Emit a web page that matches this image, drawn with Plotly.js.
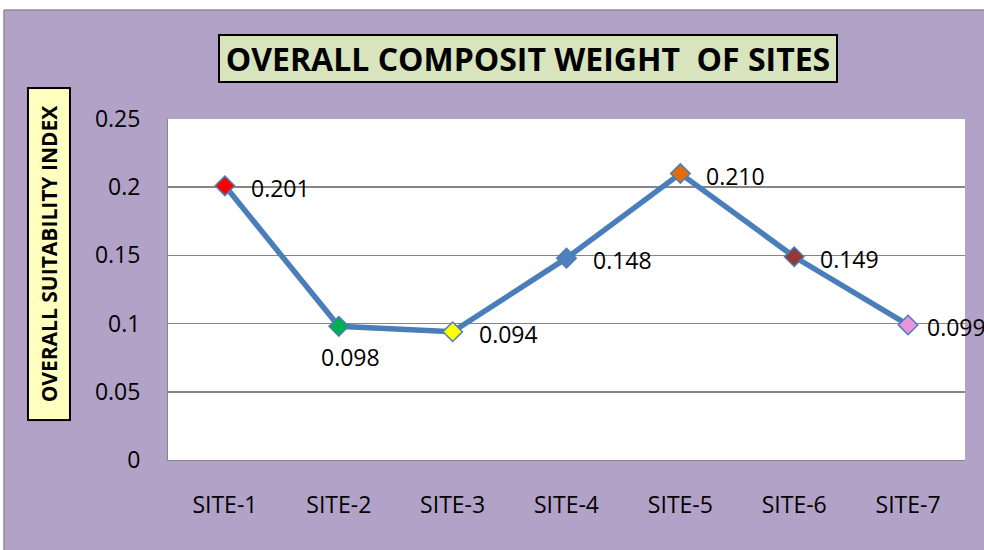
<!DOCTYPE html>
<html>
<head>
<meta charset="utf-8">
<script src="https://cdn.plot.ly/plotly-3.0.1.min.js"></script>
<style>html,body{margin:0;padding:0;background:#fff;}#chart{width:984px;height:550px;}</style>
</head>
<body>
<div id="chart"></div>
<script>
var sites = ["SITE-1", "SITE-2", "SITE-3", "SITE-4", "SITE-5", "SITE-6", "SITE-7"];
var weights = [0.201, 0.098, 0.094, 0.148, 0.210, 0.149, 0.099];
var labels = ["0.201", "0.098", "0.094", "0.148", "0.210", "0.149", "0.099"];
var labelSides = ["right", "below", "right", "right", "right", "right", "right"];
var markerColors = ["#FF0000", "#00B050", "#FFFF00", "#4F81BD", "#E36C09", "#953735", "#E994DC"];
var yTicks = [0, 0.05, 0.1, 0.15, 0.2, 0.25];
var yTickText = ["0", "0.05", "0.1", "0.15", "0.2", "0.25"];

var trace = {
  x: sites,
  y: weights,
  type: "scatter",
  mode: "lines+markers",
  cliponaxis: false,
  line: {color: "#4A7EBB", width: 5.5},
  marker: {symbol: "diamond", size: 15, color: markerColors, line: {color: "#4A7EBB", width: 1.5}},
  hoverinfo: "none",
  showlegend: false
};

var labelFont = {family: "Open Sans", size: 23, color: "#000"};
var dataLabels = sites.map(function (s, i) {
  var below = labelSides[i] === "below";
  var last = i === sites.length - 1;
  return {
    x: s, y: weights[i], xref: "x", yref: "y",
    text: labels[i], showarrow: false,
    xanchor: below ? "center" : "left",
    yanchor: "middle",
    xshift: below ? 12 : (last ? 17 : 24),
    yshift: below ? -31 : -2,
    font: labelFont
  };
});

var layout = {
  width: 984,
  height: 550,
  margin: {l: 168, r: 19, t: 119, b: 90},
  paper_bgcolor: "#B3A2C7",
  plot_bgcolor: "#FFFFFF",
  font: {family: "Open Sans", size: 23, color: "#000"},
  xaxis: {
    type: "category",
    range: [-0.5, 6.5],
    showgrid: false,
    showline: true,
    linecolor: "#868686",
    linewidth: 1,
    ticks: "",
    ticklabelstandoff: 24,
    tickfont: {family: "Open Sans", size: 23, color: "#000"},
    fixedrange: true
  },
  yaxis: {
    range: [0, 0.25],
    tickvals: yTicks,
    ticktext: yTickText,
    showgrid: true,
    gridcolor: "#868686",
    gridwidth: 1.5,
    zeroline: false,
    showline: true,
    linecolor: "#868686",
    linewidth: 1,
    ticks: "",
    ticklabelstandoff: 22,
    tickfont: {family: "Open Sans", size: 23, color: "#000"},
    fixedrange: true
  },
  shapes: [
    {type: "rect", xref: "paper", yref: "paper", x0: -0.25, x1: 1.1, y0: 1.3196, y1: 1.45, fillcolor: "#FFFFFF", line: {width: 0}, layer: "above"},
    {type: "rect", xref: "paper", yref: "paper", x0: -0.25, x1: -0.2058, y0: -0.3, y1: 1.45, fillcolor: "#FFFFFF", line: {width: 0}, layer: "above"},
    {type: "line", xref: "paper", yref: "paper", x0: -0.2058, x1: 1.1, y0: 1.3196, y1: 1.3196, line: {color: "#8C8C8C", width: 1.5}, layer: "above"},
    {type: "line", xref: "paper", yref: "paper", x0: -0.2058, x1: -0.2058, y0: -0.3, y1: 1.3196, line: {color: "#8C8C8C", width: 1.5}, layer: "above"}
  ],
  annotations: [
    {
      text: "OVERALL COMPOSIT WEIGHT&nbsp;&nbsp;OF SITES",
      xref: "paper", yref: "paper",
      x: 0.4517, y: 1.176, xanchor: "center", yanchor: "middle",
      showarrow: false,
      font: {family: "Open Sans", size: 32, color: "#000", weight: "bold"},
      bgcolor: "#D7E4BD",
      bordercolor: "#000",
      borderwidth: 2,
      borderpad: 2,
      width: 612,
      height: 41
    },
    {
      text: "OVERALL SUITABILITY INDEX",
      xref: "paper", yref: "paper",
      x: -0.1493, y: 0.604, xanchor: "center", yanchor: "middle",
      textangle: -90,
      showarrow: false,
      font: {family: "Open Sans", size: 21, color: "#000", weight: "bold"},
      bgcolor: "#FFFFC0",
      bordercolor: "#000",
      borderwidth: 2,
      borderpad: 2,
      width: 326,
      height: 36
    }
  ].concat(dataLabels)
};

Plotly.newPlot("chart", [trace], layout, {displayModeBar: false, staticPlot: true});
</script>
</body>
</html>
